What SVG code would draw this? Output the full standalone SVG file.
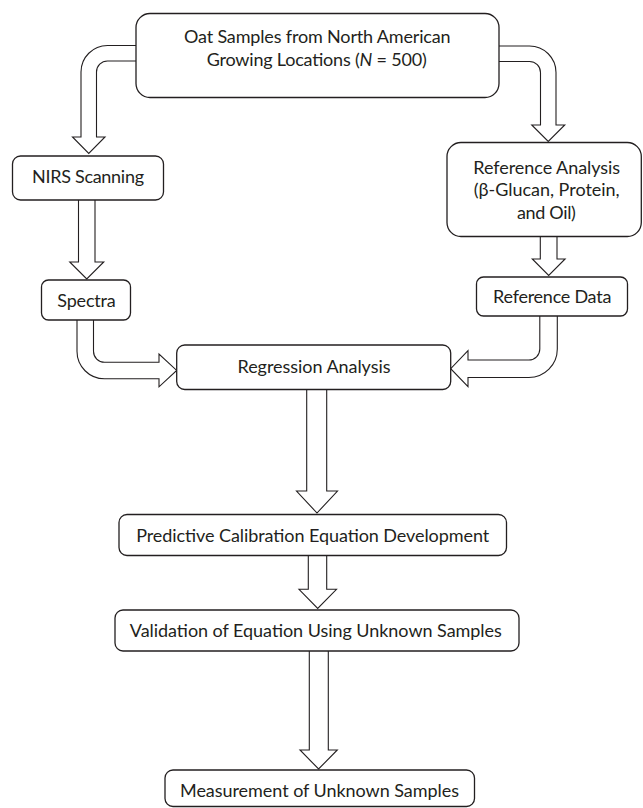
<svg xmlns="http://www.w3.org/2000/svg" width="643" height="808" viewBox="0 0 643 808">
<style>
.box{fill:#fff;stroke:#231f20;stroke-width:1.3}
.arr{fill:#fff;stroke:#231f20;stroke-width:1.1;stroke-linejoin:miter}
.t{font-family:Lato,"Liberation Sans",sans-serif;font-size:18px;fill:#231f20;text-anchor:middle}
</style>
<rect width="643" height="808" fill="#fff"/>
<g id="connectors">
<path class="arr" d="M136,45.5 H107.5 A26.5,26.5 0 0 0 81,72 V137 H72.5 L88.75,153.5 L105,137 H96.5 V72 A11,11 0 0 1 107.5,61 H136"/>
<path class="arr" d="M499,46 H529.5 A26.5,26.5 0 0 1 556,72.5 V125 H564.75 L548.25,141.5 L531.75,125 H540.5 V72.5 A11,11 0 0 0 529.5,61.5 H499"/>
<path class="arr" d="M78.5,200 V262 H69.75 L86.75,279 L103.75,262 H95 V200"/>
<path class="arr" d="M540.3,237 V259 H532.3 L548.7,275.5 L565.1,259 H557 V237"/>
<path class="arr" d="M77,320 V351.3 A27.5,27.5 0 0 0 104.5,378.8 H159 V386.8 L176.7,370.4 L159,354 V362.3 H104.5 A11,11 0 0 1 93.5,351.3 V320"/>
<path class="arr" d="M557.3,316 V349 A28.5,28.5 0 0 1 528.8,377.5 H468 V386.7 L450.7,368.7 L468,350.7 V360 H528.8 A11,11 0 0 0 539.8,349 V316"/>
<path class="arr" d="M306.7,389.5 V491 H296.5 L317,513 L337.5,491 H326.7 V389.5"/>
<path class="arr" d="M308.3,555.7 V589.3 H299 L317.7,608.5 L336.5,589.3 H326.7 V555.7"/>
<path class="arr" d="M309.3,651 V750 H300 L318.6,769 L337.3,750 H328.3 V651"/>
</g>
<g id="n-top">
<rect class="box" x="136" y="13.5" width="363" height="84" rx="14"/>
<text class="t" x="317.3" y="43.3" textLength="266.7">Oat Samples from North American</text>
<text class="t" x="316.7" y="65.8" textLength="220">Growing Locations (<tspan font-style="italic">N</tspan> = 500)</text>
</g>
<g id="n-nirs">
<rect class="box" x="12.5" y="156" width="151" height="44" rx="8"/>
<text class="t" x="88" y="182.5" textLength="112">NIRS Scanning</text>
</g>
<g id="n-refanalysis">
<rect class="box" x="447" y="142.5" width="194.3" height="94" rx="14"/>
<text class="t" x="546.7" y="173.8" textLength="146.7">Reference Analysis</text>
<text class="t" x="546.7" y="196.2" textLength="146">(β-Glucan, Protein,</text>
<text class="t" x="546.4" y="218.5" textLength="59">and Oil)</text>
</g>
<g id="n-spectra">
<rect class="box" x="41.5" y="280" width="89" height="40" rx="7"/>
<text class="t" x="86.5" y="306.5" textLength="58.4">Spectra</text>
</g>
<g id="n-refdata">
<rect class="box" x="476.5" y="277" width="151" height="39" rx="7"/>
<text class="t" x="552.2" y="303.3" textLength="118.3">Reference Data</text>
</g>
<g id="n-regression">
<rect class="box" x="176.7" y="345" width="274" height="44.5" rx="8"/>
<text class="t" x="314" y="372.5" textLength="153">Regression Analysis</text>
</g>
<g id="n-predictive">
<rect class="box" x="119" y="514.5" width="387.5" height="41" rx="8"/>
<text class="t" x="312.7" y="541.5" textLength="353">Predictive Calibration Equation Development</text>
</g>
<g id="n-validation">
<rect class="box" x="115" y="610" width="404" height="41" rx="8"/>
<text class="t" x="315.8" y="637.3" textLength="372">Validation of Equation Using Unknown Samples</text>
</g>
<g id="n-measurement">
<rect class="box" x="165" y="770" width="309.5" height="36.5" rx="8"/>
<text class="t" x="319.5" y="796.7" textLength="279">Measurement of Unknown Samples</text>
</g>
</svg>
